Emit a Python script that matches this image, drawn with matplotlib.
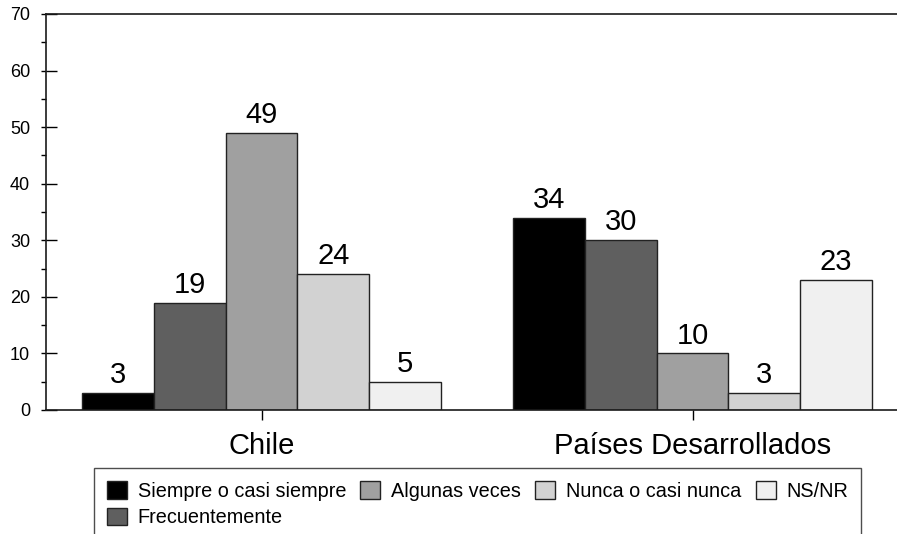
import matplotlib.pyplot as plt
import numpy as np
from matplotlib.ticker import MultipleLocator

plt.rcParams['font.family'] = ['Liberation Sans', 'DejaVu Sans']

# data
groups = ['Chile', 'Países Desarrollados']
series = ['Siempre o casi siempre', 'Frecuentemente', 'Algunas veces',
          'Nunca o casi nunca', 'NS/NR']
values = [[3, 34],
          [19, 30],
          [49, 10],
          [24, 3],
          [5, 23]]
colors = ['#000000', '#5f5f5f', '#a0a0a0', '#d2d2d2', '#f0f0f0']

fig = plt.figure(figsize=(8.97, 5.34), dpi=100)
W, H = 897, 534
ax = fig.add_axes([46 / W, 1 - 410 / H, (908 - 46) / W, (410 - 14) / H])

x = np.arange(len(groups))
bw = 1 / 6
for i, (name, vals) in enumerate(zip(series, values)):
    pos = x + (i - 2) * bw
    ax.bar(pos, vals, bw, color=colors[i], edgecolor='#222222',
           linewidth=1, label=name)
    for p, v in zip(pos, vals):
        ax.text(p, v + 1.75, str(v), ha='center', va='baseline', fontsize=21)

ax.set_xlim(-0.5, 1.5)
ax.set_ylim(0, 70)
ax.set_xticks(x)
ax.set_xticklabels(groups, fontsize=21)
ax.set_yticks(range(0, 71, 10))
ax.tick_params(axis='y', direction='in', length=8, width=1, labelsize=13, pad=11.5)
ax.yaxis.set_minor_locator(MultipleLocator(5))
ax.yaxis.remove_overlapping_locs = False
ax.tick_params(axis='y', which='minor', direction='out', length=3.6, width=1)
ax.tick_params(axis='x', direction='out', length=7.5, width=1, pad=8)

ax.spines['right'].set_visible(False)
for s in ['top', 'bottom', 'left']:
    ax.spines[s].set_linewidth(1.2)
    ax.spines[s].set_color('#1a1a1a')

leg = fig.legend(loc='upper left', bbox_to_anchor=(94 / W, 1 - 468 / H),
                 ncol=4, fontsize=14.3, frameon=True, fancybox=False,
                 edgecolor='#222222', handlelength=1.0, handleheight=1.0,
                 handletextpad=0.55, columnspacing=0.72, borderpad=0.65,
                 labelspacing=0.35, borderaxespad=0)
leg.get_frame().set_linewidth(1)

fig.savefig('out.png', dpi=100)
